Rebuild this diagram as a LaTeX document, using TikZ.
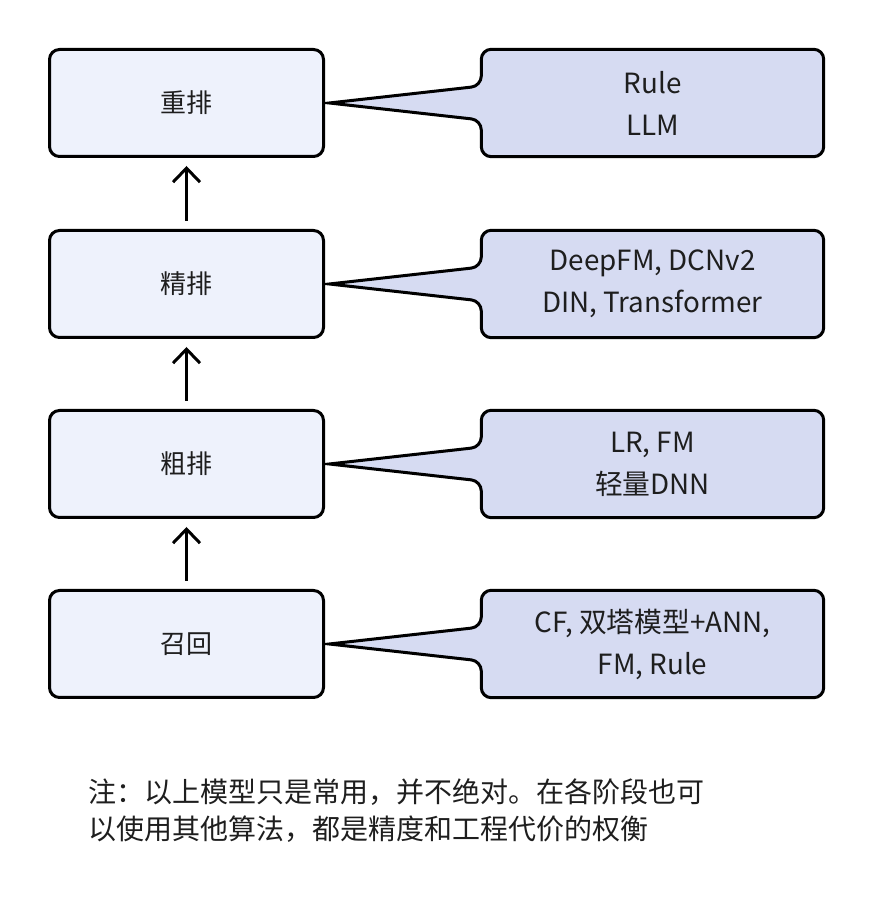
\documentclass[tikz,border=0pt]{standalone}
\usepackage{fontspec}
\setmainfont{Noto Sans CJK SC}
\usetikzlibrary{arrows.meta,positioning,backgrounds}
\definecolor{stagefill}{RGB}{238,242,252}
\definecolor{algofill}{RGB}{214,219,242}
\definecolor{inkgray}{RGB}{30,30,30}

\begin{document}
\begin{tikzpicture}[
    x=1pt, y=1pt,
    box/.style={draw, line width=3pt, rounded corners=10pt, fill=stagefill, minimum width=274pt, minimum height=107pt, text=inkgray, font=\fontsize{26}{42}\selectfont, align=center},
    algo/.style={minimum width=342pt, minimum height=107pt, text=inkgray, font=\fontsize{27.8}{42}\selectfont, align=center},
    bubble/.style={draw, line width=3pt, fill=algofill},
    arrow/.style={-{Straight Barb[length=14pt,width=27pt]}, line width=3pt, shorten >=8pt, shorten <=8pt}
]
    \useasboundingbox (0,0) rectangle (874,897);

    % 左侧阶段
    \node[box] (rerank) at (186.5,794) {重排};
    \node[box] (fine) at (186.5,613) {精排};
    \node[box] (coarse) at (186.5,433) {粗排};
    \node[box] (recall) at (186.5,253) {召回};

    \draw[arrow] (recall) -- (coarse);
    \draw[arrow] (coarse) -- (fine);
    \draw[arrow] (fine) -- (rerank);

    % 右侧常用模型
    \node[algo] (rerankalgo) at (652.5,794) {Rule\\LLM};
    \node[algo] (finealgo) at (652.5,613) {DeepFM, DCNv2\\DIN, Transformer};
    \node[algo] (coarsealgo) at (652.5,433) {LR, FM\\轻量DNN};
    \node[algo] (recallalgo) at (652.5,253) {CF, 双塔模型+ANN,\\FM, Rule};

    \begin{scope}[on background layer]
    \foreach \m in {rerankalgo, finealgo, coarsealgo, recallalgo}
        \draw[bubble] ([xshift=-152pt]\m.west) [rounded corners=10pt] -- ([yshift=17pt]\m.west) -- (\m.north west) -- (\m.north east) -- (\m.south east) -- (\m.south west) -- ([yshift=-17pt]\m.west) [sharp corners] -- cycle;
    \end{scope}

    % 注释
    \node[anchor=west, inner sep=0pt, align=left, text=inkgray, font=\fontsize{28}{37}\selectfont] (note) at (88,86) {注：以上模型只是常用，并不绝对。在各阶段也可\\以使用其他算法，都是精度和工程代价的权衡};
\end{tikzpicture}
\end{document}
